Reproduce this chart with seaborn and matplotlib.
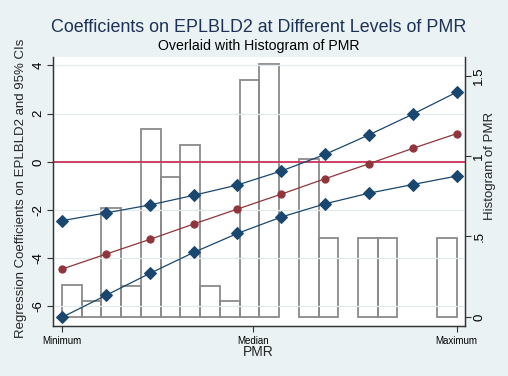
import numpy as np
import pandas as pd
import seaborn as sns
import matplotlib.pyplot as plt

# points along PMR (0 = minimum, 9 = maximum)
pmr_pts = [0, 1, 2, 3, 4, 5, 6, 7, 8, 9]
coef = [-4.45, -3.83, -3.22, -2.58, -1.96, -1.34, -0.70, -0.08, 0.56, 1.17]
ci_hi = [-2.44, -2.12, -1.79, -1.39, -0.96, -0.38, 0.31, 1.12, 1.98, 2.89]
ci_lo = [-6.45, -5.54, -4.63, -3.76, -2.97, -2.29, -1.74, -1.30, -0.94, -0.59]
pmr_median = 4.35

# histogram of PMR (20 bins between min and max)
hist_heights = [0.20, 0.10, 0.68, 0.19, 1.17, 0.87, 1.07, 0.19, 0.10, 1.47,
                1.57, 0.0, 0.98, 0.49, 0.0, 0.49, 0.49, 0.0, 0.0, 0.49]

xtick_pos = [0, pmr_median, 9]
xtick_labels = ['Minimum', 'Median', 'Maximum']
ytick_left = [-6, -4, -2, 0, 2, 4]
ytick_right = [0, 0.5, 1, 1.5]
ytick_right_labels = ['0', '.5', '1', '1.5']

navy = '#1A476F'
maroon = '#90353B'
bg = '#EAF2F3'

sns.set_style('white')
plt.rcParams['font.family'] = ['Liberation Sans', 'DejaVu Sans']

fig = plt.figure(figsize=(5.08, 3.76), dpi=100, facecolor=bg)
ax2 = fig.add_axes([53 / 508, 50 / 376, 412 / 508, 269 / 376])
ax = ax2.twinx()
ax.yaxis.tick_left()
ax2.yaxis.tick_right()
ax.set_zorder(2)
ax.patch.set_visible(False)
ax2.set_facecolor('white')

# histogram on the right axis
nbins = len(hist_heights)
width = 9 / nbins
centers = [width * (i + 0.5) for i in range(nbins)]
hist_df = pd.DataFrame({'pmr': centers, 'h': hist_heights})
sns.histplot(data=hist_df, x='pmr', weights='h', bins=nbins, binrange=(0, 9),
             ax=ax2, fill=False, color='#8A8A8A', linewidth=1.3)
# empty bins are not drawn in the original
for p in list(ax2.patches):
    if p.get_height() == 0:
        p.remove()

# coefficient lines on the left axis
df = pd.DataFrame({'pmr': pmr_pts, 'coef': coef, 'hi': ci_hi, 'lo': ci_lo})
for col, c, m, ms in [('hi', navy, 'D', 6.5), ('lo', navy, 'D', 6.5),
                      ('coef', maroon, 'o', 5.2)]:
    sns.lineplot(data=df, x='pmr', y=col, ax=ax, color=c, marker=m,
                 markersize=ms, markeredgecolor=c, linewidth=0.9)
ax.axhline(0, color='#C8234A', linewidth=1.2, zorder=1)

ax.set_xlim(-0.205, 9.19)
ax.set_ylim(-6.81, 4.35)
ax2.set_ylim(-0.056, 1.615)

ax.set_yticks(ytick_left)
ax.set_yticklabels([str(v) for v in ytick_left], rotation=90, va='center')
ax2.set_yticks(ytick_right)
ax2.set_yticklabels(ytick_right_labels, rotation=90, va='center')
ax2.set_xticks(xtick_pos)
ax2.set_xticklabels(xtick_labels, fontsize=7)
ax.grid(axis='y', color='#E1EBEE', linewidth=0.9)
ax2.grid(False)

for a in (ax, ax2):
    a.set_xlabel('')
    a.set_ylabel('')
    a.spines['top'].set_visible(False)
    for s in ('left', 'right', 'bottom'):
        a.spines[s].set_color('#333333')
        a.spines[s].set_linewidth(0.9)
ax.tick_params(axis='y', direction='out', length=4, width=0.8, colors='#333333',
               labelcolor='black', labelsize=9.5, pad=2, left=True)
ax2.tick_params(axis='y', direction='out', length=4, width=0.8, colors='#333333',
                labelcolor='black', labelsize=9.5, pad=2, right=True)
ax2.tick_params(axis='x', direction='out', length=4, width=0.8, colors='#333333',
                labelcolor='black', pad=3, bottom=True)
ax.tick_params(axis='x', bottom=False, labelbottom=False)

fig.text(259 / 508, 1 - 27 / 376, 'Coefficients on EPLBLD2 at Different Levels of PMR',
         ha='center', va='center', fontsize=12.9, color='#1E3258')
fig.text(259 / 508, 1 - 46 / 376, 'Overlaid with Histogram of PMR',
         ha='center', va='center', fontsize=10.2, color='black')
fig.text(21 / 508, 1 - 188 / 376, 'Regression Coefficients on EPLBLD2 and 95% CIs',
         ha='center', va='center', rotation=90, fontsize=9.5)
fig.text(490 / 508, 1 - 166 / 376, 'Histogram of PMR',
         ha='center', va='center', rotation=90, fontsize=9.5)
fig.text(258 / 508, 1 - 352 / 376, 'PMR', ha='center', va='center', fontsize=10)

fig.savefig('out.png', dpi=100, facecolor=bg)
